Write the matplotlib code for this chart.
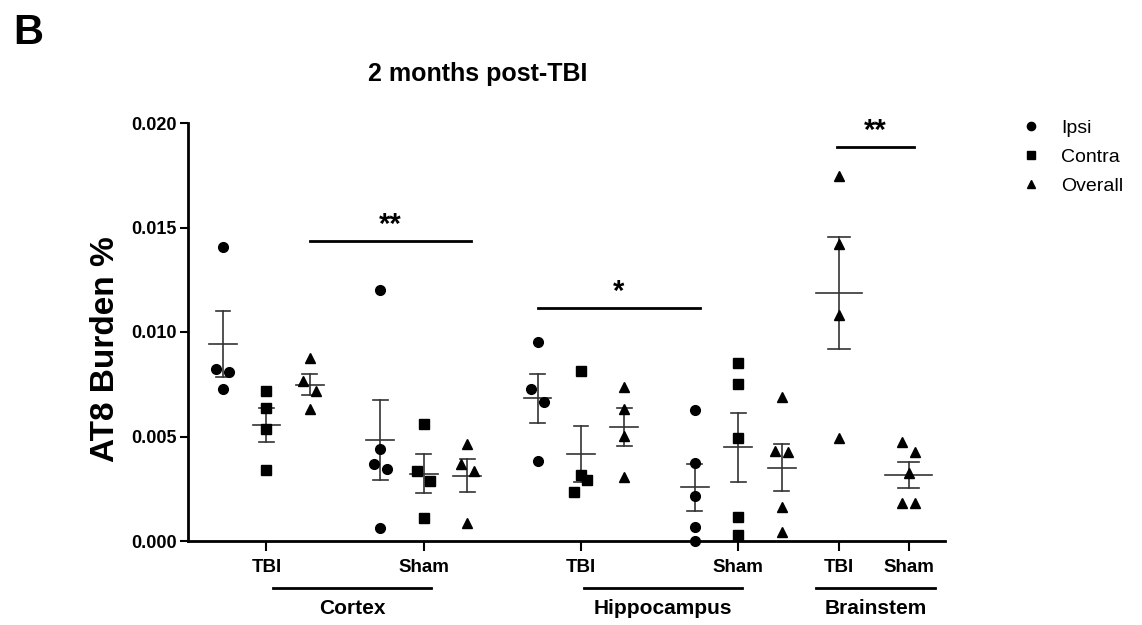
import numpy as np
import matplotlib
matplotlib.use("Agg")
import matplotlib.pyplot as plt
from matplotlib.lines import Line2D

plt.rcParams['font.family'] = ['Liberation Sans', 'DejaVu Sans']

# AT8 burden % per animal
ctx_tbi_ipsi = [0.01408, 0.00821, 0.00807, 0.00729]
ctx_tbi_contra = [0.00718, 0.00635, 0.00534, 0.00340]
ctx_tbi_overall = [0.00877, 0.00766, 0.00718, 0.00630]
ctx_sham_ipsi = [0.01201, 0.00440, 0.00367, 0.00344, 0.00061]
ctx_sham_contra = [0.00558, 0.00336, 0.00287, 0.00108]
ctx_sham_overall = [0.00463, 0.00367, 0.00337, 0.00085]
hip_tbi_ipsi = [0.00954, 0.00726, 0.00667, 0.00381]
hip_tbi_contra = [0.00815, 0.00316, 0.00292, 0.00236]
hip_tbi_overall = [0.00738, 0.00630, 0.00504, 0.00308]
hip_sham_ipsi = [0.00627, 0.00372, 0.00215, 0.00066, 0.0]
hip_sham_contra = [0.00853, 0.00751, 0.00494, 0.00113, 0.00027]
hip_sham_overall = [0.00690, 0.00432, 0.00424, 0.00164, 0.00045]
bs_tbi_overall = [0.01746, 0.01421, 0.01081, 0.00494]
bs_sham_overall = [0.00472, 0.00424, 0.00324, 0.00180, 0.00180]

series_names = ['Ipsi', 'Contra', 'Overall']
group_labels = ['TBI', 'Sham', 'TBI', 'Sham', 'TBI', 'Sham']
region_names = ['Cortex', 'Hippocampus', 'Brainstem']

columns = [
    (ctx_tbi_ipsi, 'Ipsi'), (ctx_tbi_contra, 'Contra'), (ctx_tbi_overall, 'Overall'),
    (ctx_sham_ipsi, 'Ipsi'), (ctx_sham_contra, 'Contra'), (ctx_sham_overall, 'Overall'),
    (hip_tbi_ipsi, 'Ipsi'), (hip_tbi_contra, 'Contra'), (hip_tbi_overall, 'Overall'),
    (hip_sham_ipsi, 'Ipsi'), (hip_sham_contra, 'Contra'), (hip_sham_overall, 'Overall'),
    (bs_tbi_overall, 'Overall'), (bs_sham_overall, 'Overall'),
]
xpos = [0, 1, 2, 3.62, 4.62, 5.62, 7.24, 8.24, 9.24, 10.86, 11.86, 12.86, 14.18, 15.78]
markers = {'Ipsi': 'o', 'Contra': 's', 'Overall': '^'}
msize = {'Ipsi': 7, 'Contra': 6.5, 'Overall': 7}


def swarm(vals, d=0.15, thr=0.00062):
    # spread points that would overlap, GraphPad style
    order = np.argsort(vals)[::-1]
    offs = np.zeros(len(vals))
    clusters = [[order[0]]]
    for i in order[1:]:
        if vals[clusters[-1][-1]] - vals[i] < thr:
            clusters[-1].append(i)
        else:
            clusters.append([i])
    for c in clusters:
        if len(c) == 2:
            pat = [-1, 1]
        elif len(c) == 3:
            pat = [0, 1, -1]
        else:
            pat = [0] * len(c)
        for k, p in zip(c, pat):
            offs[k] = p * d
    return offs


fig = plt.figure(figsize=(11.42, 6.25), dpi=100)
ax = fig.add_axes([188 / 1142, 84 / 625, 757 / 1142, 418 / 625])

for (vals, kind), x in zip(columns, xpos):
    vals = np.array(vals)
    offs = swarm(vals)
    ax.plot(x + offs, vals, linestyle='none', marker=markers[kind],
            markersize=msize[kind], color='black', clip_on=False, zorder=3)
    m = vals.mean()
    sem = vals.std(ddof=1) / np.sqrt(len(vals))
    wide = x > 13.5
    hw = 0.54 if wide else 0.32
    cw = 0.25 if wide else 0.17
    ax.plot([x - hw, x + hw], [m, m], color='#333333', lw=1.2, zorder=2)
    ax.plot([x, x], [m - sem, m + sem], color='#333333', lw=1.2, zorder=2)
    for yy in (m - sem, m + sem):
        ax.plot([x - cw, x + cw], [yy, yy], color='#333333', lw=1.2, zorder=2)

ax.set_xlim(-0.805, 16.62)
ax.set_ylim(0, 0.020)
ax.set_yticks([0, 0.005, 0.010, 0.015, 0.020])
ax.set_yticklabels(['%.3f' % v for v in [0, 0.005, 0.010, 0.015, 0.020]],
                   fontsize=13, fontweight='bold')
ax.set_xticks([1, 4.62, 8.24, 11.86, 14.18, 15.78])
ax.set_xticklabels(group_labels, fontsize=13.5, fontweight='bold')
ax.tick_params(axis='y', length=6, width=1.5, pad=2)
ax.tick_params(axis='x', length=7, width=1.5, pad=6)
for s in ('top', 'right'):
    ax.spines[s].set_visible(False)
for s in ('left', 'bottom'):
    ax.spines[s].set_linewidth(2)

ax.set_ylabel('AT8 Burden %', fontsize=24, fontweight='bold')
ax.yaxis.set_label_coords(-0.088, 0.46)

# region brackets under the axis
tr = ax.get_xaxis_transform()
regions = [(1.15, 4.80), (8.32, 11.95), (13.66, 16.39)]
for (x0, x1), name in zip(regions, region_names):
    ax.plot([x0, x1], [-0.112, -0.112], color='black', lw=2, transform=tr, clip_on=False)
    ax.text((x0 + x1) / 2, -0.162, name, transform=tr, ha='center', va='center',
            fontsize=15, fontweight='bold')

# significance bars
sig = [(2.0, 5.72, 0.01435, '**'), (7.24, 10.97, 0.01116, '*'), (14.14, 15.91, 0.01887, '**')]
for x0, x1, y, lab in sig:
    ax.plot([x0, x1], [y, y], color='black', lw=2, clip_on=False)
    ax.text((x0 + x1) / 2, y + 0.0001, lab, ha='center', va='bottom',
            fontsize=21, fontweight='bold', clip_on=False)

handles = [Line2D([], [], linestyle='none', marker=markers[n], color='black',
                  markersize=msize[n] * 0.85) for n in series_names]
ax.legend(handles, series_names, loc='upper left', bbox_to_anchor=(1021 / 1142, 1 - 119 / 625),
          bbox_transform=fig.transFigure, frameon=False, fontsize=14, handlelength=1,
          handletextpad=1.05, labelspacing=0.6, borderaxespad=0, borderpad=0)

fig.text(478 / 1142, 1 - 74 / 625, '2 months post-TBI', ha='center', va='center',
         fontsize=18, fontweight='bold')
fig.text(13 / 1142, 1 - 13 / 625, 'B', ha='left', va='top', fontsize=30, fontweight='bold')

fig.savefig('out.png', dpi=100)
